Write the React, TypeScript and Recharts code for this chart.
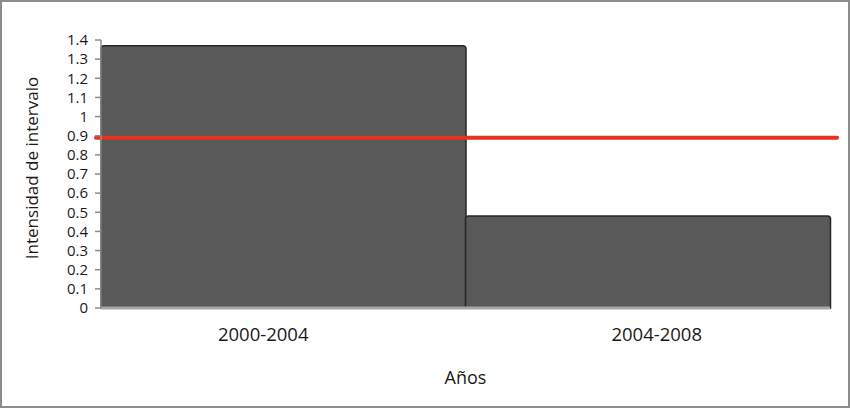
import { BarChart, Bar, XAxis, YAxis, ReferenceLine } from 'recharts'

const periods = ['2000-2004', '2004-2008']
const intensity = [1.37, 0.48]
const uniformRate = 0.89
const yTicks = [0, 0.1, 0.2, 0.3, 0.4, 0.5, 0.6, 0.7, 0.8, 0.9, 1, 1.1, 1.2, 1.3, 1.4]

const data = periods.map((p, i) => ({ period: p, value: intensity[i] }))

const font = '"Open Sans", sans-serif'
// labels in the original sit a bit off the category centres
const tickNudge = [-20, 9]

function PeriodTick(props: any) {
  const { x, y, payload, index } = props
  return (
    <text
      x={x + (tickNudge[index] || 0)}
      y={y}
      dy="0.71em"
      textAnchor="middle"
      fill="#1a1a1a"
      fontSize={18.5}
      fontFamily={font}
    >
      {payload.value}
    </text>
  )
}

function RateLine(props: any) {
  const { x1, x2, y1, y2 } = props
  return (
    <line
      x1={x1 - 5}
      x2={x2 + 7}
      y1={y1}
      y2={y2}
      stroke="#e8321e"
      strokeWidth={4}
      strokeLinecap="round"
    />
  )
}

export default function App() {
  return (
    <div style={{ position: 'absolute', left: 0, top: 0, width: 850, height: 408, background: '#fff' }}>
      <BarChart
        width={850}
        height={408}
        data={data}
        margin={{ top: 40, right: 20, left: 0, bottom: 20 }}
        barCategoryGap={0}
      >
        <XAxis
          dataKey="period"
          axisLine={{ stroke: '#a6a6a6', strokeWidth: 3 }}
          tickLine={false}
          tickSize={0}
          tickMargin={20}
          height={80}
          tick={<PeriodTick />}
          label={{ value: 'Años', position: 'insideBottom', offset: 4, fill: '#1a1a1a', fontSize: 18, fontFamily: font }}
        />
        <YAxis
          domain={[0, 1.4]}
          ticks={yTicks}
          interval={0}
          width={101}
          axisLine={{ stroke: '#8c8c8c', strokeWidth: 1.5 }}
          tickLine={{ stroke: '#8c8c8c', strokeWidth: 1.5 }}
          tickSize={6}
          tickMargin={7}
          tick={{ fill: '#1a1a1a', fontSize: 15, fontFamily: font }}
          label={{
            value: 'Intensidad de intervalo',
            angle: -90,
            position: 'center',
            dx: -19,
            dy: -6,
            fill: '#1a1a1a',
            fontSize: 17,
            fontFamily: font,
          }}
        />
        <Bar
          dataKey="value"
          fill="#595959"
          stroke="#262626"
          strokeWidth={1.5}
          radius={[3, 3, 0, 0]}
          isAnimationActive={false}
        />
        <ReferenceLine y={uniformRate} shape={<RateLine />} />
      </BarChart>
      <div
        style={{
          position: 'absolute',
          inset: 0,
          border: '2px solid #8c8c8c',
          boxSizing: 'border-box',
          pointerEvents: 'none',
        }}
      />
    </div>
  )
}
